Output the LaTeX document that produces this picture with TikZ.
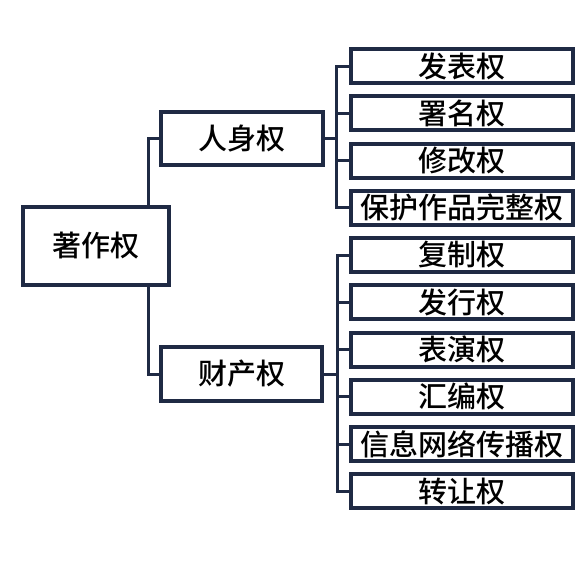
\documentclass[tikz,border=0pt]{standalone}
\usepackage{fontspec}
\setmainfont{Noto Sans CJK SC}[UprightFont=* Medium]
\definecolor{navy}{HTML}{1F2A44}
\begin{document}
\begin{tikzpicture}[x=1pt,y=-1pt,
  box/.style={draw=navy,line width=4pt,fill=white,inner sep=0pt,font=\fontsize{29}{31}\selectfont,text=black},
  leaf/.style={box,minimum width=222pt,minimum height=34pt},
  link/.style={draw=navy,line width=3pt}]
\useasboundingbox (0,0) rectangle (583,566);
\fill[white] (0,0) rectangle (583,566);
\node[box,minimum width=146pt,minimum height=78pt] (root) at (96,246) {著作权};
\node[box,minimum width=162pt,minimum height=53pt] (rs) at (242,138.5) {人身权};
\node[box,minimum width=161pt,minimum height=54pt] (cc) at (241.5,374) {财产权};
\coordinate (ba) at (148,0);
\coordinate (bb) at (336,0);
\coordinate (bc) at (337,0);
\foreach \n/\t/\y in {a1/发表权/66, a2/署名权/113.25, a3/修改权/160.5, a4/保护作品完整权/207.75,
  b1/复制权/255, b2/发行权/302.25, b3/表演权/349.5, b4/汇编权/396.75, b5/信息网络传播权/444, b6/转让权/491.25}
  \node[leaf] (\n) at (462,\y) {\t};
\draw[link] (root.north -| ba) |- (rs.west);
\draw[link] (root.south -| ba) |- (cc.west);
\foreach \n in {a1,a2,a3,a4}
  \draw[link] (rs.east) -| (rs.east -| bb) |- (\n.west);
\foreach \n in {b1,b2,b3,b4,b5,b6}
  \draw[link] (cc.east) -| (cc.east -| bc) |- (\n.west);
\end{tikzpicture}
\end{document}
